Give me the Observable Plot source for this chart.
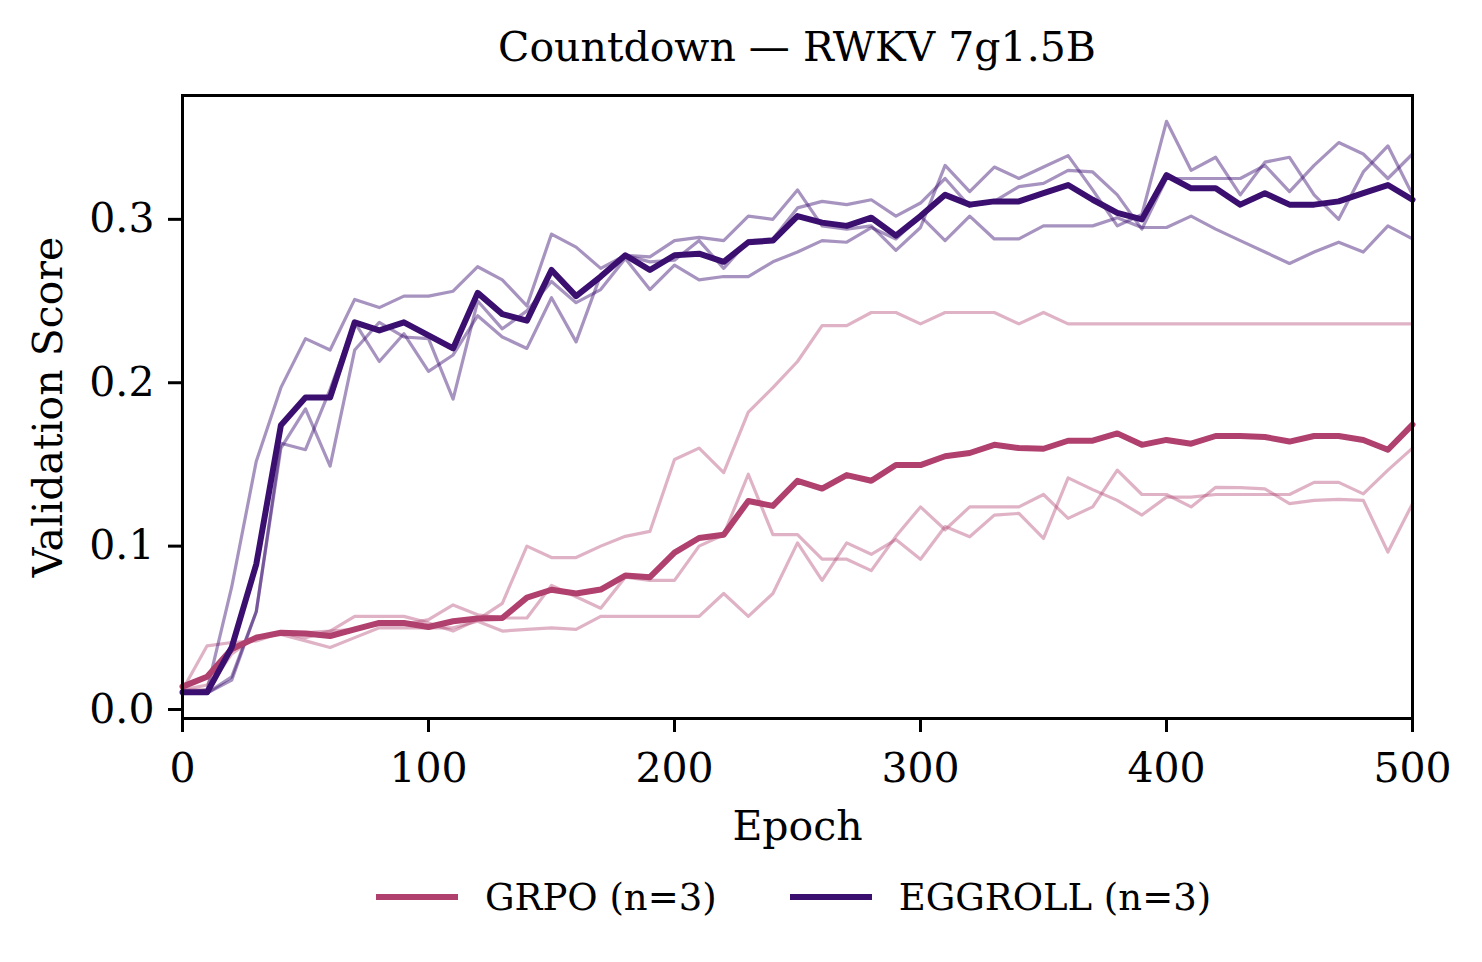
<!DOCTYPE html>
<html>
<head>
<meta charset="utf-8">
<script src="https://cdn.jsdelivr.net/npm/d3@7"></script>
<script src="https://cdn.jsdelivr.net/npm/@observablehq/plot@0.6"></script>
<style>
  body { margin: 0; background: #fff; }
  #wrap { position: relative; width: 1482px; height: 962px; font-family: "DejaVu Serif", serif; color: #000; background: #fff; }
  #title { position: absolute; top: 0; left: 182px; width: 1230px; text-align: center; font-size: 41px; line-height: 94px; white-space: nowrap; }
  #chart { position: absolute; top: 80px; left: 0; }
  #legend { position: absolute; top: 872px; left: 0; width: 1482px; height: 50px; display: flex; align-items: center; padding-left: 376px; box-sizing: border-box; font-size: 37px; white-space: nowrap; }
  .item { display: flex; align-items: center; }
  .swatch { width: 82px; height: 5.5px; margin-right: 27px; }
</style>
</head>
<body>
<div id="wrap">
  <div id="title"></div>
  <div id="chart"></div>
  <div id="legend"></div>
</div>
<script>
const titleText = "Countdown — RWKV 7g1.5B";
const xLabel = "Epoch";
const yLabel = "Validation Score";
const seriesNames = ["GRPO (n=3)", "EGGROLL (n=3)"];
const seriesColors = ["#b0406e", "#3b0f70"];
const xTicks = [0, 100, 200, 300, 400, 500];
const yTicks = [0.0, 0.1, 0.2, 0.3];

const epochs = [0,10,20,30,40,50,60,70,80,90,100,110,120,130,140,150,160,170,180,190,200,210,220,230,240,250,260,270,280,290,300,310,320,330,340,350,360,370,380,390,400,410,420,430,440,450,460,470,480,490,500];

// GRPO
const grpoMean = [0.014,0.020,0.037,0.044,0.047,0.0465,0.045,0.049,0.053,0.053,0.0505,0.054,0.0557,0.056,0.0685,0.0733,0.071,0.0734,0.082,0.081,0.096,0.105,0.107,0.1276,0.1246,0.140,0.1352,0.1435,0.140,0.1496,0.1496,0.155,0.157,0.162,0.160,0.1596,0.1645,0.1645,0.169,0.162,0.165,0.1627,0.1674,0.1674,0.1668,0.164,0.1674,0.1674,0.165,0.159,0.1744];
const grpoRun1 = [0.012,0.039,0.041,0.042,0.047,0.047,0.048,0.057,0.057,0.057,0.053,0.048,0.055,0.065,0.100,0.093,0.093,0.100,0.106,0.109,0.153,0.160,0.145,0.182,0.197,0.213,0.235,0.235,0.243,0.243,0.236,0.243,0.243,0.243,0.236,0.243,0.236,0.236,0.236,0.236,0.236,0.236,0.236,0.236,0.236,0.236,0.236,0.236,0.236,0.236,0.236];
const grpoRun2 = [0.012,0.015,0.036,0.044,0.047,0.044,0.048,0.049,0.052,0.052,0.055,0.064,0.058,0.056,0.056,0.076,0.069,0.062,0.081,0.079,0.079,0.100,0.107,0.144,0.107,0.107,0.092,0.092,0.085,0.106,0.124,0.110,0.124,0.124,0.124,0.1316,0.117,0.124,0.1465,0.1316,0.1316,0.124,0.136,0.1358,0.135,0.126,0.128,0.1286,0.128,0.0964,0.126];
const grpoRun3 = [0.012,0.012,0.034,0.045,0.046,0.042,0.038,0.044,0.050,0.050,0.050,0.050,0.054,0.048,0.049,0.050,0.049,0.057,0.057,0.057,0.057,0.057,0.071,0.057,0.071,0.102,0.079,0.102,0.095,0.104,0.092,0.112,0.1057,0.119,0.120,0.1047,0.1418,0.1346,0.128,0.119,0.130,0.130,0.1316,0.1316,0.1316,0.1316,0.139,0.139,0.132,0.1465,0.160];

// EGGROLL
const eggMean = [0.0105,0.0105,0.038,0.089,0.174,0.191,0.191,0.237,0.232,0.237,0.229,0.221,0.255,0.242,0.238,0.269,0.253,0.265,0.278,0.269,0.278,0.279,0.274,0.286,0.287,0.302,0.298,0.296,0.301,0.290,0.302,0.315,0.309,0.311,0.311,0.316,0.321,0.312,0.304,0.300,0.327,0.319,0.319,0.309,0.316,0.309,0.309,0.311,0.316,0.321,0.312];
const eggRun1 = [0.010,0.012,0.075,0.152,0.197,0.227,0.220,0.251,0.246,0.253,0.253,0.256,0.271,0.263,0.247,0.291,0.283,0.270,0.278,0.277,0.287,0.289,0.287,0.302,0.300,0.318,0.296,0.294,0.296,0.281,0.295,0.333,0.317,0.332,0.325,0.332,0.339,0.318,0.296,0.303,0.360,0.330,0.338,0.315,0.335,0.338,0.315,0.300,0.329,0.345,0.315];
const eggRun2 = [0.010,0.010,0.020,0.060,0.163,0.159,0.196,0.237,0.213,0.230,0.207,0.217,0.241,0.228,0.221,0.252,0.225,0.266,0.278,0.274,0.275,0.287,0.270,0.287,0.288,0.307,0.311,0.309,0.312,0.302,0.310,0.325,0.308,0.311,0.320,0.322,0.330,0.329,0.315,0.294,0.325,0.325,0.325,0.325,0.333,0.317,0.333,0.347,0.340,0.325,0.340];
const eggRun3 = [0.010,0.010,0.018,0.060,0.160,0.184,0.149,0.220,0.237,0.228,0.227,0.190,0.250,0.233,0.244,0.262,0.249,0.257,0.276,0.257,0.272,0.263,0.265,0.265,0.274,0.280,0.287,0.286,0.295,0.288,0.302,0.287,0.302,0.288,0.288,0.296,0.296,0.296,0.301,0.295,0.295,0.302,0.294,0.287,0.280,0.273,0.280,0.286,0.280,0.296,0.288];

function toRows(arr, run) { return arr.map((v, i) => ({epoch: epochs[i], score: v, run})); }
const grpoRuns = [grpoRun1, grpoRun2, grpoRun3].flatMap((a, k) => toRows(a, "g" + k));
const eggRuns = [eggRun1, eggRun2, eggRun3].flatMap((a, k) => toRows(a, "e" + k));
const grpoMeanRows = toRows(grpoMean, "gm");
const eggMeanRows = toRows(eggMean, "em");

document.getElementById("title").textContent = titleText;

const chart = Plot.plot({
  width: 1482,
  height: 773,
  marginLeft: 182,
  marginRight: 70,
  marginTop: 15,
  marginBottom: 135,
  style: { fontFamily: "DejaVu Serif", fontSize: "41px", background: "white", color: "black", overflow: "visible" },
  x: { domain: [0, 500] },
  y: { domain: [-0.0055, 0.3758] },
  marks: [
    Plot.line(grpoRuns, { x: "epoch", y: "score", z: "run", stroke: seriesColors[0], strokeOpacity: 0.4, strokeWidth: 3.2, strokeLinejoin: "round" }),
    Plot.line(eggRuns, { x: "epoch", y: "score", z: "run", stroke: seriesColors[1], strokeOpacity: 0.45, strokeWidth: 3.2, strokeLinejoin: "round" }),
    Plot.line(grpoMeanRows, { x: "epoch", y: "score", stroke: seriesColors[0], strokeWidth: 6, strokeLinejoin: "round" }),
    Plot.line(eggMeanRows, { x: "epoch", y: "score", stroke: seriesColors[1], strokeWidth: 6, strokeLinejoin: "round" }),
    Plot.frame({ stroke: "black", strokeWidth: 3 }),
    Plot.axisX({ ticks: xTicks, tickSize: 14, tickPadding: 20, strokeWidth: 3, label: null, tickFormat: d3.format("d"), fontSize: 41 }),
    Plot.axisY({ ticks: yTicks, tickSize: 14, tickPadding: 14, strokeWidth: 3, label: null, tickFormat: d3.format(".1f"), fontSize: 41 }),
    Plot.text([xLabel], { text: d => d, frameAnchor: "bottom", lineAnchor: "middle", textAnchor: "middle", dy: 108, fontSize: 41 }),
    Plot.text([yLabel], { text: d => d, frameAnchor: "left", textAnchor: "middle", lineAnchor: "middle", dx: -134, rotate: -90, fontSize: 41 })
  ]
});
document.getElementById("chart").appendChild(chart);

const legend = document.getElementById("legend");
seriesNames.forEach((name, i) => {
  const item = document.createElement("div");
  item.className = "item";
  if (i > 0) item.style.marginLeft = "73px";
  const sw = document.createElement("div");
  sw.className = "swatch";
  sw.style.background = seriesColors[i];
  const t = document.createElement("span");
  t.textContent = name;
  item.appendChild(sw);
  item.appendChild(t);
  legend.appendChild(item);
});
</script>
</body>
</html>
